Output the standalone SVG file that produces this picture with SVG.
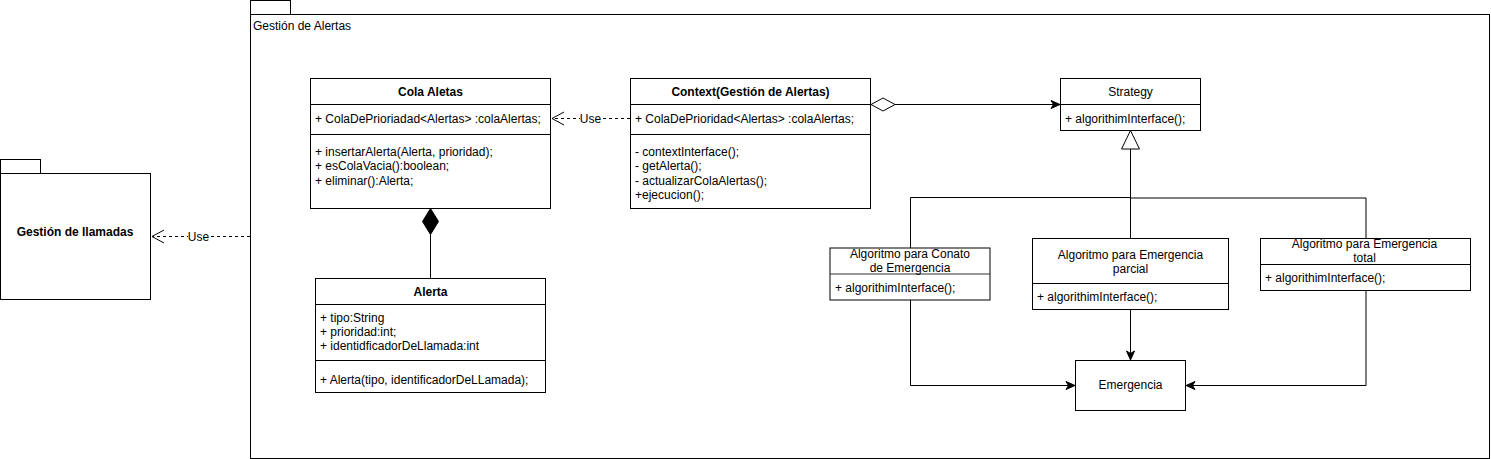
<svg xmlns="http://www.w3.org/2000/svg" width="1491" height="459" viewBox="0 0 1491 459">
<style>
  .t{font-family:"Liberation Sans",Arial,Helvetica,sans-serif;font-size:12px;fill:#000}
  .b{font-weight:bold}
  .c{text-anchor:middle}
  .box{fill:#fff;stroke:#000;stroke-width:1}
  .ln{fill:none;stroke:#000;stroke-width:1}
  .dash{fill:none;stroke:#000;stroke-width:1;stroke-dasharray:3 3}
  .lbl{fill:#fff;stroke:none}
</style>
<defs>
  <marker id="open" markerUnits="userSpaceOnUse" markerWidth="16" markerHeight="16" viewBox="0 0 16 16" refX="13" refY="8" orient="auto">
    <path d="M1,1.5 L13,8 L1,14.5" fill="none" stroke="#000" stroke-width="1"/>
  </marker>
  <marker id="classic" markerUnits="userSpaceOnUse" markerWidth="12" markerHeight="10" viewBox="0 0 12 10" refX="10" refY="5" orient="auto">
    <path d="M1,1 L10,5 L1,9 L3.5,5 Z" fill="#000" stroke="#000" stroke-width="1"/>
  </marker>
</defs>

<g id="pkg-alertas">
  <rect class="box" x="250.5" y="0.5" width="40" height="14"/>
  <rect class="box" x="250.5" y="14.5" width="1239" height="444"/>
  <text class="t" x="253" y="30">Gestión de Alertas</text>
</g>

<g id="pkg-llamadas">
  <rect class="box" x="0.5" y="159.5" width="40" height="14"/>
  <rect class="box" x="0.5" y="173.5" width="150" height="126"/>
  <text class="t b c" x="75" y="236">Gestión de llamadas</text>
</g>

<g id="connectors">
  <line class="dash" x1="250" y1="236.5" x2="152" y2="236.5" marker-end="url(#open)"/>
  <rect class="lbl" x="188" y="230" width="21" height="13"/>
  <text class="t c" x="198.5" y="240.5">Use</text>
  <line class="dash" x1="630" y1="118.5" x2="552" y2="118.5" marker-end="url(#open)"/>
  <rect class="lbl" x="580" y="112" width="21" height="13"/>
  <text class="t c" x="590.5" y="122.5">Use</text>
  <polygon points="871,104.5 883,98 895,104.5 883,111" fill="#fff" stroke="#000" stroke-width="1"/>
  <line class="ln" x1="895" y1="104.5" x2="1060" y2="104.5" marker-end="url(#classic)"/>
  <polygon points="430.5,208.5 438.5,221.5 430.5,234.5 422.5,221.5" fill="#000" stroke="#000" stroke-width="1"/>
  <line class="ln" x1="430.5" y1="234.5" x2="430.5" y2="278.5"/>
  <polygon points="1130.5,130.5 1139.5,149 1121.5,149" fill="#fff" stroke="#000" stroke-width="1"/>
  <line class="ln" x1="1130.5" y1="149" x2="1130.5" y2="238.5"/>
  <polyline class="ln" points="910.5,248 910.5,197.5 1130.5,197.5"/>
  <polyline class="ln" points="1366,238.5 1366,198 1130.5,198"/>
  <polyline class="ln" points="910.5,300 910.5,385.5 1075,385.5" marker-end="url(#classic)"/>
  <line class="ln" x1="1130.5" y1="309.5" x2="1130.5" y2="360" marker-end="url(#classic)"/>
  <polyline class="ln" points="1366,290.5 1366,385.5 1186,385.5" marker-end="url(#classic)"/>
</g>

<g id="cola-aletas">
  <rect class="box" x="310.5" y="78.5" width="240" height="130"/>
  <line class="ln" x1="310.5" y1="104.5" x2="550.5" y2="104.5"/>
  <line class="ln" x1="310.5" y1="134.5" x2="550.5" y2="134.5"/>
  <text class="t b c" x="430.5" y="96">Cola Aletas</text>
  <text class="t" x="315" y="122.5">+ ColaDePrioriadad&lt;Alertas&gt; :colaAlertas;</text>
  <text class="t" x="315" y="155.5">+ insertarAlerta(Alerta, prioridad);</text>
  <text class="t" x="315" y="170">+ esColaVacia():boolean;</text>
  <text class="t" x="315" y="184.5">+ eliminar():Alerta;</text>
</g>

<g id="context">
  <rect class="box" x="630.5" y="78.5" width="240" height="130"/>
  <line class="ln" x1="630.5" y1="104.5" x2="870.5" y2="104.5"/>
  <line class="ln" x1="630.5" y1="134.5" x2="870.5" y2="134.5"/>
  <text class="t b c" x="750.5" y="96">Context(Gestión de Alertas)</text>
  <text class="t" x="635" y="122.5">+ ColaDePrioridad&lt;Alertas&gt; :colaAlertas;</text>
  <text class="t" x="635" y="155.5">- contextInterface();</text>
  <text class="t" x="635" y="170">- getAlerta();</text>
  <text class="t" x="635" y="184.5">- actualizarColaAlertas();</text>
  <text class="t" x="635" y="199">+ejecucion();</text>
</g>

<g id="alerta">
  <rect class="box" x="315.5" y="278.5" width="230" height="114"/>
  <line class="ln" x1="315.5" y1="304.5" x2="545.5" y2="304.5"/>
  <line class="ln" x1="315.5" y1="360.5" x2="545.5" y2="360.5"/>
  <text class="t b c" x="430.5" y="296">Alerta</text>
  <text class="t" x="320" y="321.5">+ tipo:String</text>
  <text class="t" x="320" y="335.5">+ prioridad:int;</text>
  <text class="t" x="320" y="349.5">+ identidficadorDeLlamada:int</text>
  <text class="t" x="320" y="383.5">+ Alerta(tipo, identificadorDeLLamada);</text>
</g>

<g id="strategy">
  <rect class="box" x="1060.5" y="78.5" width="140" height="52"/>
  <line class="ln" x1="1060.5" y1="104.5" x2="1200.5" y2="104.5"/>
  <text class="t c" x="1130.5" y="96">Strategy</text>
  <text class="t" x="1065" y="122.5">+ algorithimInterface();</text>
</g>

<g id="alg-conato">
  <rect class="box" x="830" y="248" width="160" height="52" stroke="#333"/>
  <line x1="830" y1="274" x2="990" y2="274" stroke="#333" stroke-width="1"/>
  <text class="t c" x="910" y="258">Algoritmo para Conato</text>
  <text class="t c" x="910" y="272">de Emergencia</text>
  <text class="t" x="835" y="292">+ algorithimInterface();</text>
</g>

<g id="alg-parcial">
  <rect class="box" x="1032.5" y="238.5" width="196" height="71"/>
  <line class="ln" x1="1032.5" y1="283.5" x2="1228.5" y2="283.5"/>
  <text class="t c" x="1130.5" y="258.5">Algoritmo para Emergencia</text>
  <text class="t c" x="1130.5" y="273">parcial</text>
  <text class="t" x="1037" y="301">+ algorithimInterface();</text>
</g>

<g id="alg-total">
  <rect class="box" x="1260.5" y="238.5" width="210" height="52"/>
  <line class="ln" x1="1260.5" y1="264.5" x2="1470.5" y2="264.5"/>
  <text class="t c" x="1364.5" y="248">Algoritmo para Emergencia</text>
  <text class="t c" x="1364.5" y="261.5">total</text>
  <text class="t" x="1265" y="281.5">+ algorithimInterface();</text>
</g>

<g id="emergencia">
  <rect class="box" x="1075.5" y="360.5" width="110" height="50"/>
  <text class="t c" x="1130.5" y="389">Emergencia</text>
</g>
</svg>
